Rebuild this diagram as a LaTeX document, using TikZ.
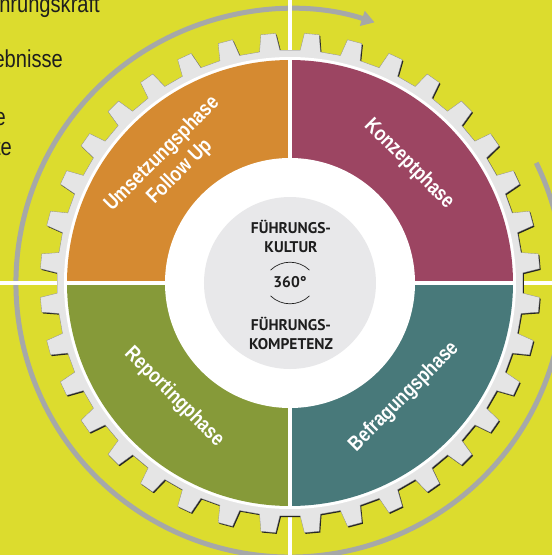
\documentclass[tikz,border=0pt]{standalone}
\usepackage{fontspec}
\setmainfont{Liberation Sans}
\newfontfamily\condfont[FakeStretch=0.82]{Liberation Sans}
\newfontfamily\ctrfont{PT Sans}
\usetikzlibrary{arrows.meta}
\definecolor{bgc}{HTML}{DCDC2E}
\definecolor{orangeq}{HTML}{D58A31}
\definecolor{purpleq}{HTML}{9C4562}
\definecolor{tealq}{HTML}{48797A}
\definecolor{oliveq}{HTML}{869A39}
\definecolor{geargray}{HTML}{E5E5E5}
\definecolor{innergray}{HTML}{E8E8EA}
\definecolor{arcgray}{HTML}{A6A8A8}
\definecolor{txtdark}{HTML}{1E1E1E}
\tikzset{
  lbl/.style={text=white, inner sep=0pt, font=\condfont\bfseries\fontsize{21}{25}\selectfont},
  ctr/.style={text=txtdark, inner sep=0pt, align=center, font=\ctrfont\bfseries\fontsize{15.5}{19}\selectfont},
  tl/.style={text=txtdark, inner sep=0pt, anchor=base east, font=\condfont\fontsize{24.5}{28}\selectfont},
  sepline/.style={white, line width=3.5pt}
}
\begin{document}
\begin{tikzpicture}[x=1pt,y=1pt]
\useasboundingbox (-290,-272) rectangle (262,283);
\clip (-290,-272) rectangle (262,283);
\fill[bgc] (-290,-272) rectangle (262,283);
% top-left texts
\node[tl] (t1) at (-190,270) {hrungskraft};
\node[tl] (t2) at (-227,215) {ebnisse};
\node[tl] (t3) at (-284,158) {e};
\node[tl] (t4) at (-278,128) {te};
% gray circular arrow
\draw[arcgray, line width=5pt, -{Triangle[length=13pt,width=15pt]}] (26:274pt) arc[start angle=26, end angle=-288, radius=274pt];
% white cross lines
\draw[sepline] (-290,0) -- (262,0);
\draw[sepline] (0,-272) -- (0,283);
% gear shadow
\fill[black!85, shift={(1.1pt,-1.3pt)}] (-2.5:233pt) \foreach \c in {5,15,...,355} { -- ({\c-2.5}:233pt) -- ({\c-1.7}:250pt) -- ({\c+1.7}:250pt) -- ({\c+2.5}:233pt) } -- cycle;
% gear
\filldraw[fill=geargray, draw=black!45, line width=0.3pt] (-2.5:233pt) \foreach \c in {5,15,...,355} { -- ({\c-2.5}:233pt) -- ({\c-1.7}:250pt) -- ({\c+1.7}:250pt) -- ({\c+2.5}:233pt) } -- cycle;
% white ring
\fill[white] (0,0) circle[radius=226pt];
% quadrants
\fill[purpleq] (0,0) -- (0:223pt) arc[start angle=0, end angle=90, radius=223pt] -- cycle;
\fill[orangeq] (0,0) -- (90:223pt) arc[start angle=90, end angle=180, radius=223pt] -- cycle;
\fill[oliveq] (0,0) -- (180:223pt) arc[start angle=180, end angle=270, radius=223pt] -- cycle;
\fill[tealq] (0,0) -- (270:223pt) arc[start angle=270, end angle=360, radius=223pt] -- cycle;
\draw[sepline] (-226,0) -- (226,0);
\draw[sepline] (0,-226) -- (0,226);
% inner circles
\fill[white] (0,0) circle[radius=125pt];
\fill[innergray] (0,0) circle[radius=86pt];
% quadrant labels
\node[lbl, rotate=-45] (konz) at (119,119) {Konzeptphase};
\node[lbl, rotate=45, align=center] (ums) at (-119,120) {Umsetzungsphase\\Follow Up};
\node[lbl, rotate=-45] (rep) at (-116,-114) {Reportingphase};
\node[lbl, rotate=45] (befr) at (114,-114) {Befragungsphase};
% center texts
\node[ctr] (kultur) at (1,47) {FÜHRUNGS-\\KULTUR};
\node[ctr] (deg) at (0,1) {360°};
\node[ctr] (komp) at (1,-50) {FÜHRUNGS-\\KOMPETENZ};
\draw[txtdark, line width=0.7pt] (45.5:27.8pt) ++(0,-7) arc[start angle=45.5, end angle=134.5, radius=27.8pt];
\draw[txtdark, line width=0.7pt] (225.5:27.8pt) ++(0,7) arc[start angle=225.5, end angle=314.5, radius=27.8pt];
\end{tikzpicture}
\end{document}
